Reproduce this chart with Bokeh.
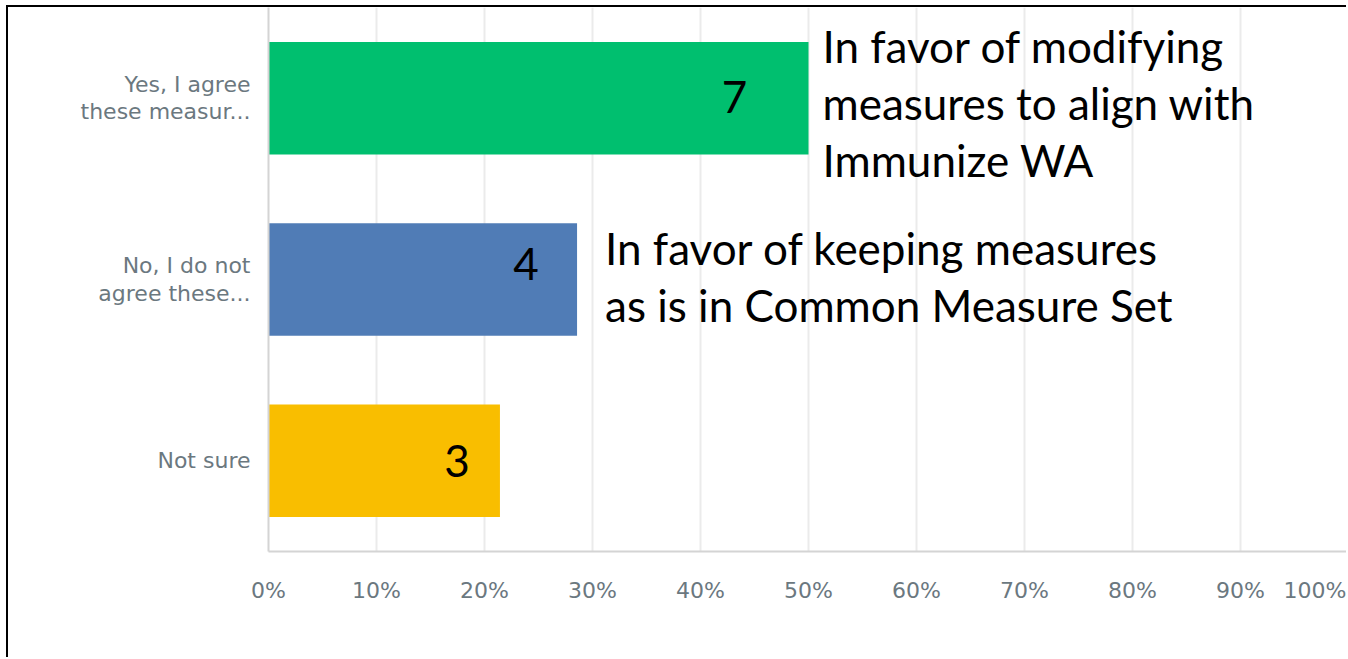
from bokeh.plotting import figure
from bokeh.models import FactorRange, Range1d, FixedTicker, ColumnDataSource
from bokeh.core.properties import value
from bokeh.embed import file_html
from bokeh.resources import INLINE

# ---- data ----
categories = ["Yes, I agree\nthese measur...", "No, I do not\nagree these...", "Not sure"]
percents = [50.0, 28.57, 21.43]
counts = ["7", "4", "3"]
colors = ["#00bf6f", "#507cb6", "#f9be00"]
notes = ["In favor of modifying\nmeasures to align with\nImmunize WA",
         "In favor of keeping measures\nas is in Common Measure Set"]
tick_values = [0, 10, 20, 30, 40, 50, 60, 70, 80, 90, 100]
tick_labels = ["0%", "10%", "20%", "30%", "40%", "50%", "60%", "70%", "80%", "90%", "100%"]

# ---- styling ----
count_x_offsets = [-74, -51, -43]
count_y_offsets = [-1, -16, 0]
note_x_offsets = [14, 28]
note_y_offsets = [5, -3]
BIG_FONT = "Lato"
BIG_SIZE = "44px"
AX_FONT = "DejaVu Sans"
AX_SIZE = "22px"
GRAY = "#6b787f"

p = figure(width=1340, height=652,
           y_range=FactorRange(factors=categories[::-1], range_padding=0),
           x_range=Range1d(0, 100),
           output_backend="svg", toolbar_location=None,
           min_border_left=260, min_border_right=0,
           min_border_top=0, min_border_bottom=108)
p.margin = (5, 0, 0, 6)
p.styles = {"border-left": "2px solid black", "border-top": "2px solid black"}
p.outline_line_color = None
p.background_fill_color = "white"
p.border_fill_color = "white"

src = ColumnDataSource(dict(cat=categories, pct=percents, cnt=counts, col=colors,
                            xo=count_x_offsets, yo=count_y_offsets))
p.hbar(y="cat", right="pct", left=0, height=0.62, fill_color="col", line_color=None,
       source=src)
p.text(x="pct", y="cat", text="cnt", x_offset="xo", y_offset="yo", source=src,
       text_align="center", text_baseline="middle", text_color="black",
       text_font=value(BIG_FONT), text_font_size=BIG_SIZE)

nsrc = ColumnDataSource(dict(x=percents[:2], y=categories[:2], t=notes,
                             xo=note_x_offsets, yo=note_y_offsets))
p.text(x="x", y="y", text="t", x_offset="xo", y_offset="yo", source=nsrc,
       text_align="left", text_baseline="middle", text_color="black",
       text_font=value(BIG_FONT), text_font_size=BIG_SIZE, text_line_height=1.1)

# grid
p.ygrid.grid_line_color = None
p.xgrid.grid_line_color = "#ebebeb"
p.xgrid.grid_line_width = 2
p.xgrid.ticker = FixedTicker(ticks=tick_values)

# x axis
xa = p.xaxis[0]
xa.ticker = FixedTicker(ticks=tick_values)
xa.major_label_overrides = {v: l for v, l in zip(tick_values, tick_labels)}
xa.major_tick_line_color = None
xa.minor_tick_line_color = None
xa.axis_line_color = "#d4d4d4"
xa.axis_line_width = 2
xa.major_label_standoff = 20
xa.major_label_text_font = AX_FONT
xa.major_label_text_font_size = AX_SIZE
xa.major_label_text_color = GRAY

# y axis
ya = p.yaxis[0]
ya.major_tick_line_color = None
ya.minor_tick_line_color = None
ya.axis_line_color = "#d4d4d4"
ya.axis_line_width = 2
ya.major_label_standoff = 12
ya.major_label_text_font = AX_FONT
ya.major_label_text_font_size = AX_SIZE
ya.major_label_text_color = GRAY
ya.major_label_text_line_height = 1.1

open("out.html", "w").write(file_html(p, INLINE))
